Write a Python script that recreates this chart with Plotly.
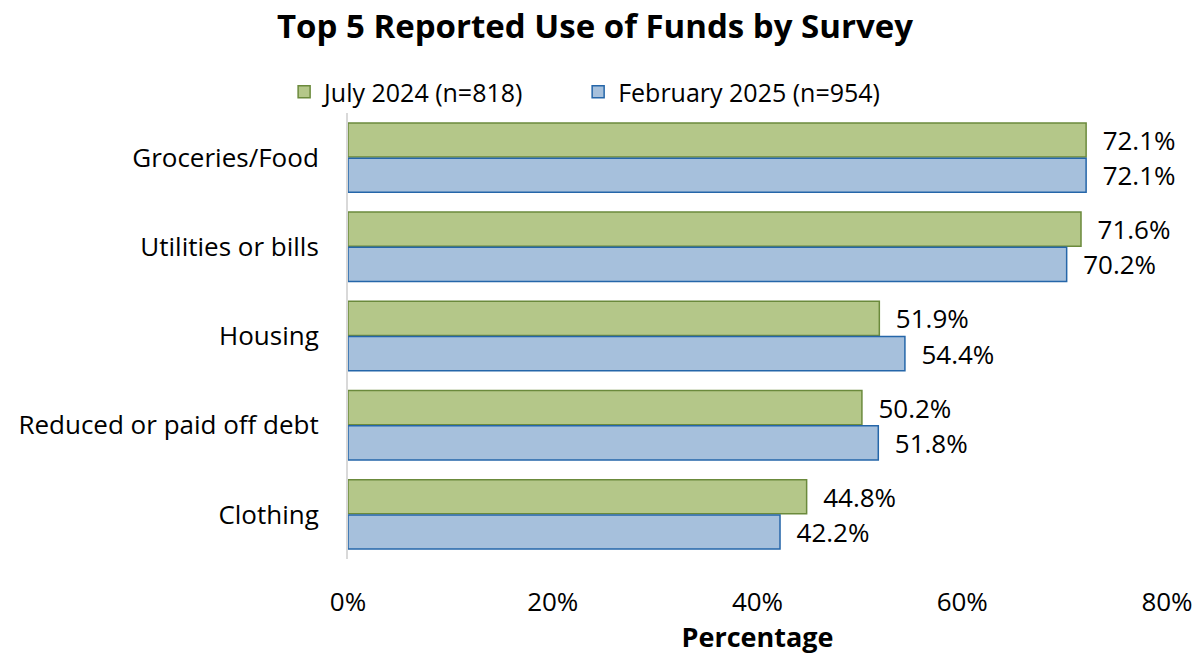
import plotly.graph_objects as go

categories = ["Groceries/Food", "Utilities or bills", "Housing", "Reduced or paid off debt", "Clothing"]
july_2024 = [0.721, 0.716, 0.519, 0.502, 0.448]
feb_2025 = [0.721, 0.702, 0.544, 0.518, 0.422]
series_names = ["July 2024 (n=818)", "February 2025 (n=954)"]
x_ticks = [0, 0.2, 0.4, 0.6, 0.8]
x_tick_labels = ["0%", "20%", "40%", "60%", "80%"]

FONT = "Open Sans"
FS = 26
NB = "\u00a0"

fig = go.Figure()
fig.add_trace(go.Bar(
    y=categories, x=july_2024, name=series_names[0], orientation="h",
    marker=dict(color="#B4C789", line=dict(color="#6B8A3C", width=1.5)),
    texttemplate=NB * 2 + "%{x:.1%}", textposition="outside", cliponaxis=False,
    constraintext="none", legend="legend",
    textfont=dict(family=FONT, size=FS, color="#000000"),
))
fig.add_trace(go.Bar(
    y=categories, x=feb_2025, name=series_names[1], orientation="h",
    marker=dict(color="#A6C0DC", line=dict(color="#2566A9", width=1.5)),
    texttemplate=NB * 2 + "%{x:.1%}", textposition="outside", cliponaxis=False,
    constraintext="none", legend="legend2",
    textfont=dict(family=FONT, size=FS, color="#000000"),
))

legend_style = dict(orientation="h", xanchor="left", y=1.047, yanchor="middle",
                    font=dict(family=FONT, size=25), itemwidth=30,
                    bgcolor="rgba(0,0,0,0)")

fig.update_layout(
    width=1202, height=655,
    paper_bgcolor="white", plot_bgcolor="white",
    margin=dict(l=348, r=35, t=113, b=96, autoexpand=False),
    barmode="group", bargap=0.21, bargroupgap=0.03,
    font=dict(family=FONT, size=FS, color="#000000"),
    title=dict(text="<b>Top 5 Reported Use of Funds by Survey</b>",
               x=0.495, xanchor="center", y=0.96, yanchor="middle",
               font=dict(family=FONT, size=33, color="#000000")),
    legend=dict(x=-0.078, **legend_style),
    legend2=dict(x=0.281, **legend_style),
    showlegend=True,
)
fig.update_yaxes(
    autorange="reversed", showline=True, linecolor="#D9D9D9", linewidth=2,
    showgrid=False, ticks="", ticklabelstandoff=22, automargin=False,
    tickfont=dict(family=FONT, size=FS),
)
fig.update_xaxes(
    range=[0, 0.8], tickvals=x_ticks, ticktext=x_tick_labels,
    showgrid=False, showline=False, zeroline=False, ticks="",
    ticklabelstandoff=25, automargin=False,
    tickfont=dict(family=FONT, size=FS),
    title=dict(text="<b>Percentage</b>", font=dict(family=FONT, size=27), standoff=19),
)

fig.write_html("out.html")
